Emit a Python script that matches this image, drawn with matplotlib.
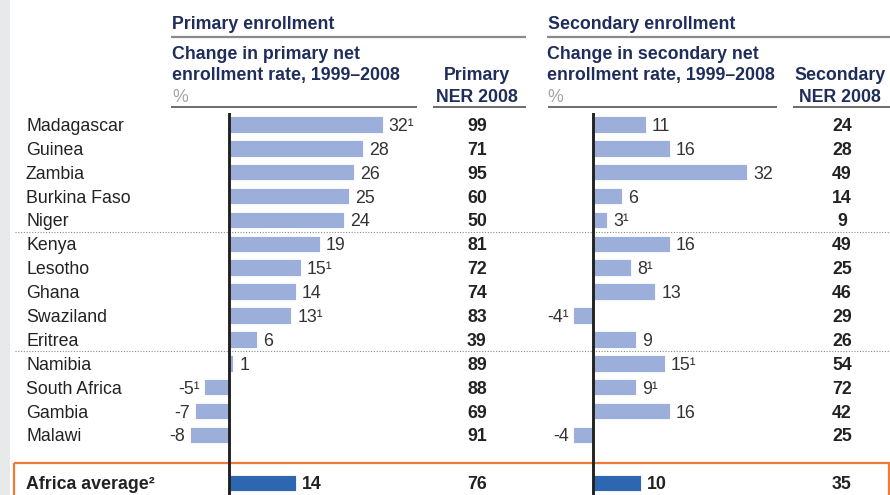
import matplotlib

matplotlib.use("Agg")
import matplotlib.pyplot as plt
from matplotlib import transforms
from matplotlib.patches import Rectangle

plt.rcParams["font.family"] = ["Liberation Sans", "DejaVu Sans"]

COUNTRIES = [
    "Madagascar", "Guinea", "Zambia", "Burkina Faso", "Niger",
    "Kenya", "Lesotho", "Ghana", "Swaziland", "Eritrea",
    "Namibia", "South Africa", "Gambia", "Malawi",
]
PRIMARY_CHANGE = [32, 28, 26, 25, 24, 19, 15, 14, 13, 6, 1, -5, -7, -8]
PRIMARY_NOTE = [1, 0, 0, 0, 0, 0, 1, 0, 1, 0, 0, 1, 0, 0]
PRIMARY_NER = [99, 71, 95, 60, 50, 81, 72, 74, 83, 39, 89, 88, 69, 91]
SECONDARY_CHANGE = [11, 16, 32, 6, 3, 16, 8, 13, -4, 9, 15, 9, 16, -4]
SECONDARY_NOTE = [0, 0, 0, 0, 1, 0, 1, 0, 1, 0, 1, 1, 0, 0]
SECONDARY_NER = [24, 28, 49, 14, 9, 49, 25, 46, 29, 26, 54, 72, 42, 25]

AVERAGE_LABEL = "Africa average\u00b2"
AVERAGE_PRIMARY_CHANGE = 14
AVERAGE_PRIMARY_NER = 76
AVERAGE_SECONDARY_CHANGE = 10
AVERAGE_SECONDARY_NER = 35

GROUP_BREAKS = [4.5, 9.5]

# styling
W, H = 890, 495
NAVY = "#1f2d5a"
TEXT = "#222222"
LABEL = "#333333"
LIGHT_BAR = "#9bafda"
DARK_BAR = "#2e67b1"
ORANGE = "#ef7a3a"
FS = 12.8

# row y (data) -> pixel: 124.4 + 23.89 * row
ROW0, ROW_STEP = 124.4, 23.89
AVG_ROW = 15
PX_PER_UNIT = 4.82

fig = plt.figure(figsize=(W / 100, H / 100), dpi=100)

ov = fig.add_axes([0, 0, 1, 1])
ov.set_xlim(0, W)
ov.set_ylim(H, 0)
ov.axis("off")


def px_axes(x0, x1, zero_x, y0=113, y1=H):
    ax = fig.add_axes([x0 / W, 1 - y1 / H, (x1 - x0) / W, (y1 - y0) / H])
    ax.set_xlim((x0 - zero_x) / PX_PER_UNIT, (x1 - zero_x) / PX_PER_UNIT)
    ax.set_ylim((y1 - ROW0) / ROW_STEP, (y0 - ROW0) / ROW_STEP)
    ax.axis("off")
    return ax


def baseline(trans):
    return transforms.offset_copy(trans, fig=fig, y=-6.5, units="dots")


def draw_panel(ax, values, notes, avg):
    rows = list(range(len(values)))
    ax.barh(rows, values, height=0.69, color=LIGHT_BAR,
            edgecolor="white", linewidth=0.6, zorder=2)
    ax.barh([AVG_ROW], [avg], height=0.69, color=DARK_BAR,
            edgecolor="white", linewidth=0.6, zorder=2)
    ax.axvline(0, color="#222222", lw=2.1, zorder=3)
    tr = baseline(ax.transData)
    for r, v, n in zip(rows, values, notes):
        txt = f"{v}{chr(0xB9) if n else ''}"
        if v >= 0:
            ax.text(v + 1.25, r, txt, ha="left", va="baseline",
                    fontsize=FS, color=LABEL, transform=tr)
        else:
            ax.text(v - 1.0, r, txt, ha="right", va="baseline",
                    fontsize=FS, color=LABEL, transform=tr)
    ax.text(avg + 1.25, AVG_ROW, f"{avg}", ha="left", va="baseline",
            fontsize=FS, color=TEXT, fontweight="bold", transform=tr)


# left grey strip
ov.add_patch(Rectangle((0, 0), 10, H, color="#e8e9eb", lw=0))

# headers
for x0, x1, title in [(171, 526, "Primary enrollment"),
                      (547, W, "Secondary enrollment")]:
    ov.text(x0 + 1, 29, title, fontsize=FS, fontweight="bold",
            color=NAVY, va="baseline")
    ov.plot([x0, x1], [37, 37], color="#8a8a8a", lw=1.6,
            solid_capstyle="butt")

for x, kind in [(172, "primary"), (547, "secondary")]:
    ov.text(x, 59, f"Change in {kind} net", fontsize=FS,
            fontweight="bold", color=NAVY, va="baseline")
    ov.text(x, 80, "enrollment rate, 1999\u20132008", fontsize=FS,
            fontweight="bold", color=NAVY, va="baseline")
    ov.text(x, 101.5, "%", fontsize=FS, color="#a6a6a6", va="baseline")

for cx, word in [(477, "Primary"), (840, "Secondary")]:
    ov.text(cx, 80, word, fontsize=FS, fontweight="bold", color=NAVY,
            ha="center", va="baseline")
    ov.text(cx, 101.5, "NER 2008", fontsize=FS, fontweight="bold",
            color=NAVY, ha="center", va="baseline")

for x0, x1 in [(171, 417), (433, 526), (548, 777), (793, W)]:
    ov.plot([x0, x1], [107.3, 107.3], color="#444444", lw=1.1,
            solid_capstyle="butt")

# average box
ov.add_patch(Rectangle((14, 463), 875, 60, fill=False,
                       edgecolor=ORANGE, lw=1.6))

ax_p = px_axes(171, 417, 228.5)
ax_s = px_axes(548, 777, 592.7)

row_tr = transforms.blended_transform_factory(ov.transData, ax_p.transData)
row_base = baseline(row_tr)

for yb in GROUP_BREAKS:
    ov.plot([15, W], [yb, yb], color="#8c8c8c", lw=0.8, ls=(0, (1, 1.5)),
            transform=row_tr)

for r, name in enumerate(COUNTRIES):
    ov.text(26, r, name, fontsize=FS, color=TEXT, va="baseline",
            transform=row_base)
    ov.text(477, r, str(PRIMARY_NER[r]), fontsize=FS, fontweight="bold",
            color=TEXT, ha="center", va="baseline", transform=row_base)
    ov.text(842, r, str(SECONDARY_NER[r]), fontsize=FS, fontweight="bold",
            color=TEXT, ha="center", va="baseline", transform=row_base)

ov.text(26, AVG_ROW, AVERAGE_LABEL, fontsize=FS, fontweight="bold",
        color=TEXT, va="baseline", transform=row_base)
ov.text(477, AVG_ROW, str(AVERAGE_PRIMARY_NER), fontsize=FS,
        fontweight="bold", color=TEXT, ha="center", va="baseline",
        transform=row_base)
ov.text(842, AVG_ROW, str(AVERAGE_SECONDARY_NER), fontsize=FS,
        fontweight="bold", color=TEXT, ha="center", va="baseline",
        transform=row_base)

draw_panel(ax_p, PRIMARY_CHANGE, PRIMARY_NOTE, AVERAGE_PRIMARY_CHANGE)
draw_panel(ax_s, SECONDARY_CHANGE, SECONDARY_NOTE, AVERAGE_SECONDARY_CHANGE)

fig.savefig("out.png", dpi=100)
